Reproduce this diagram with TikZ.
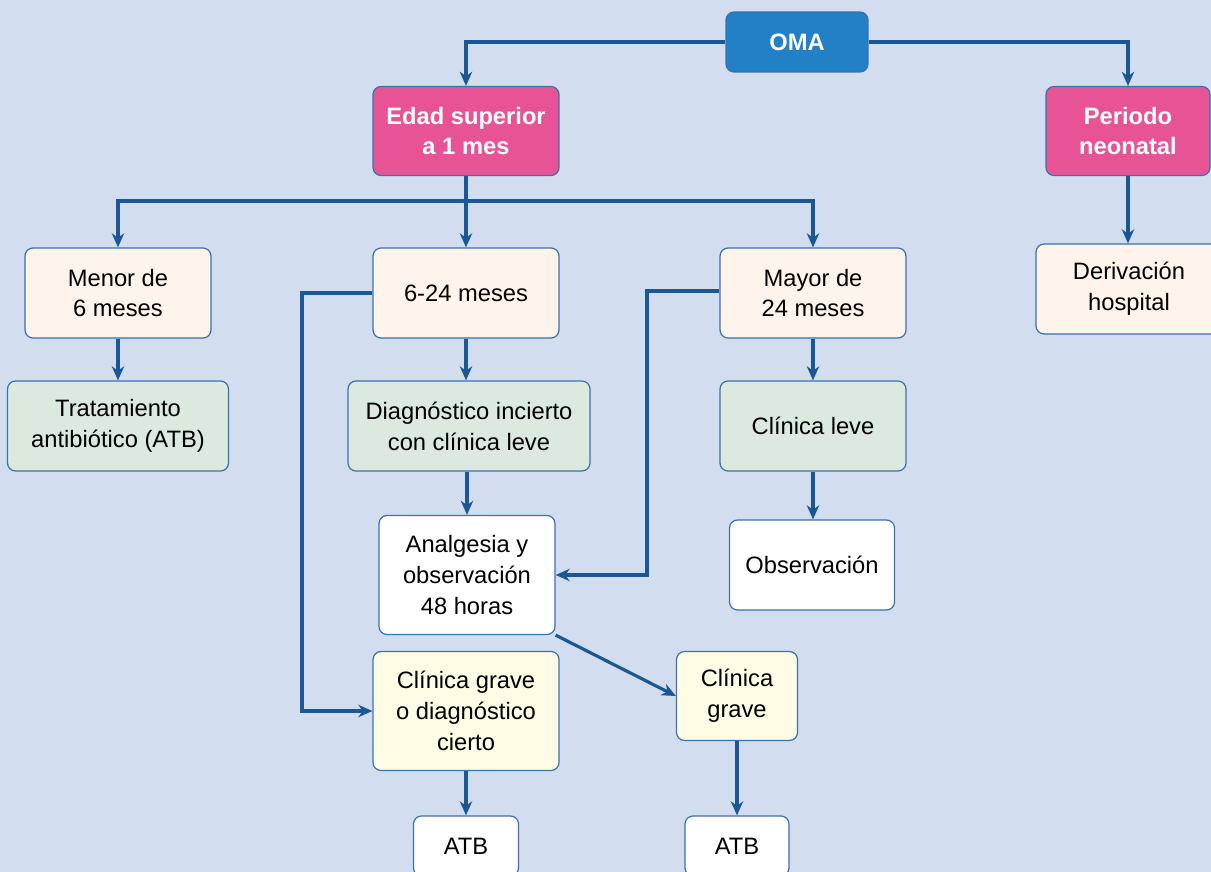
\documentclass[tikz,border=0pt]{standalone}
\usepackage{fontspec}
\setmainfont{Liberation Sans}
\usetikzlibrary{arrows.meta}
\definecolor{fondo}{HTML}{D3DDF0}
\definecolor{borde}{HTML}{3A72AE}
\definecolor{flecha}{HTML}{1A5794}
\definecolor{azul}{HTML}{2180C6}
\definecolor{rosa}{HTML}{E85396}
\definecolor{crema}{HTML}{FEF4EB}
\definecolor{verde}{HTML}{DCE9DF}
\definecolor{amarillo}{HTML}{FEFCE4}

\begin{document}
\begin{tikzpicture}[x=0.02cm, y=-0.02cm]
    \tikzstyle{caja} = [rectangle, rounded corners=0.16cm, draw=borde, line width=0.7pt, align=center, inner sep=0pt, font=\fontsize{13.5}{17.6}\selectfont, minimum width=3.72cm, minimum height=1.8cm]
    \tikzstyle{raiz} = [caja, fill=azul, text=white, font=\fontsize{13.5}{17.6}\selectfont\bfseries]
    \tikzstyle{grupo} = [caja, fill=rosa, text=white, font=\fontsize{13.5}{17.6}\selectfont\bfseries]
    \tikzstyle{edad} = [caja, fill=crema]
    \tikzstyle{clinica} = [caja, fill=verde]
    \tikzstyle{accion} = [caja, fill=white]
    \tikzstyle{grave} = [caja, fill=amarillo]
    \tikzstyle{arrow} = [draw=flecha, line width=1.8pt, ->, >={Stealth[length=8pt,width=7pt,inset=2.5pt]}]

    \clip (0,0) rectangle (1211,872);
    \fill[fondo] (0,0) rectangle (1211,872);

    \node[raiz, minimum width=2.84cm, minimum height=1.2cm] (oma) at (797,42) {OMA};
    \node[grupo, minimum height=1.78cm] (superior) at (466,131) {Edad superior\\a 1 mes};
    \node[grupo, minimum width=3.28cm, minimum height=1.78cm] (neonatal) at (1128,131) {Periodo\\neonatal};

    \node[edad] (menor) at (118,293) {Menor de\\6 meses};
    \node[edad] (meses) at (466,293) {6-24 meses};
    \node[edad] (mayor) at (813,293) {Mayor de\\24 meses};
    \node[edad] (derivacion) at (1129,289) {Derivación\\hospital};

    \node[clinica, minimum width=4.42cm] (tratamiento) at (118,426) {Tratamiento\\antibiótico (ATB)};
    \node[clinica, minimum width=4.84cm] (incierto) at (469,426) {Diagnóstico incierto\\con clínica leve};
    \node[clinica] (leve) at (813,426) {Clínica leve};

    \node[accion, minimum width=3.52cm, minimum height=2.38cm] (analgesia) at (467,575) {Analgesia y\\observación\\48 horas};
    \node[accion, minimum width=3.3cm] (observacion) at (812,565) {Observación};

    \node[grave, minimum height=2.38cm] (cierto) at (466,711) {Clínica grave\\o diagnóstico\\cierto};
    \node[grave, minimum width=2.42cm, minimum height=1.78cm] (grave) at (737,696) {Clínica\\grave};

    \node[accion, minimum width=2.1cm, minimum height=1.2cm] (atb1) at (466,846) {ATB};
    \node[accion, minimum width=2.08cm, minimum height=1.2cm] (atb2) at (737,846) {ATB};

    \coordinate (reparto) at (466,201);
    \coordinate (codo1) at (302,293);
    \coordinate (codo2) at (647,291);

    \draw[arrow] (oma.west) -| (superior.north);
    \draw[arrow] (oma.east) -| (neonatal.north);
    \draw[arrow] (superior.south) -- (meses.north);
    \draw[arrow] (reparto) -| (menor.north);
    \draw[arrow] (reparto) -| (mayor.north);
    \draw[arrow] (neonatal.south) -- (neonatal.south |- derivacion.north);

    \draw[arrow] (menor) -- (tratamiento);
    \draw[arrow] (meses) -- (meses |- incierto.north);
    \draw[arrow] (mayor) -- (leve);
    \draw[arrow] (incierto.south -| analgesia) -- (analgesia);
    \draw[arrow] (leve) -- (leve |- observacion.north);

    \draw[arrow] (meses.west) -- (codo1) |- (cierto.west);
    \draw[arrow] (mayor.west |- codo2) -- (codo2) |- (analgesia.east);
    \draw[arrow] (analgesia.south east) -- (grave.west);

    \draw[arrow] (cierto) -- (atb1);
    \draw[arrow] (grave.south) -- (grave.south |- atb2.north);
\end{tikzpicture}
\end{document}
